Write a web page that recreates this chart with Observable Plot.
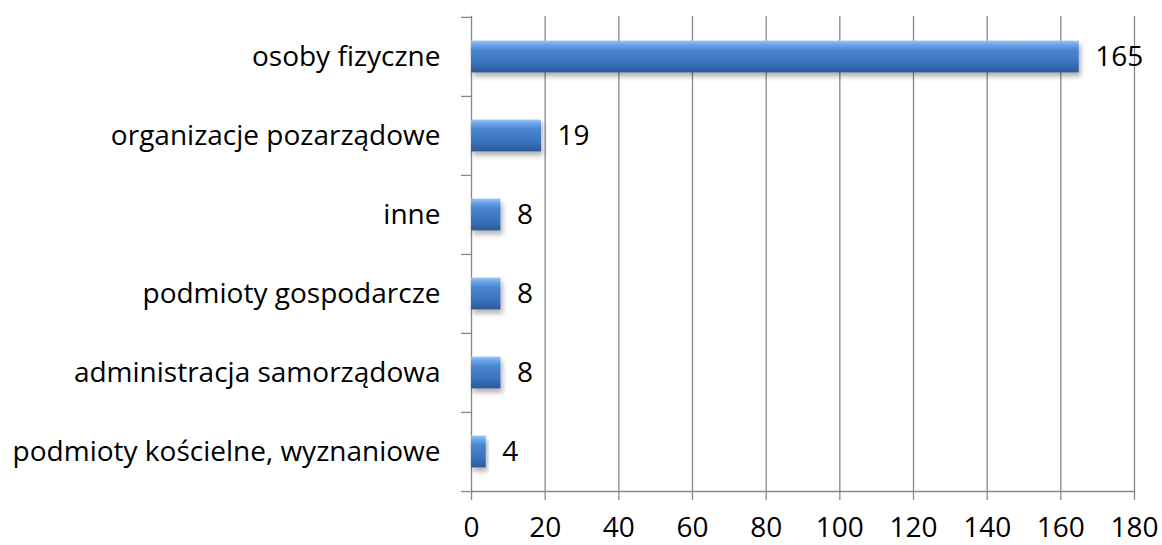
<!DOCTYPE html>
<html>
<head>
<meta charset="utf-8">
<script src="https://cdn.jsdelivr.net/npm/d3@7"></script>
<script src="https://cdn.jsdelivr.net/npm/@observablehq/plot@0.6"></script>
<style>
  body { margin: 0; background: #fff; }
  #chart svg { display: block; }
</style>
</head>
<body>
<div id="chart"></div>
<script>
const categories = [
  "osoby fizyczne",
  "organizacje pozarządowe",
  "inne",
  "podmioty gospodarcze",
  "administracja samorządowa",
  "podmioty kościelne, wyznaniowe"
];
const values = [165, 19, 8, 8, 8, 4];
const xTicks = [0, 20, 40, 60, 80, 100, 120, 140, 160, 180];

const data = categories.map((c, i) => ({category: c, value: values[i]}));

const W = 1162, H = 545;
const mT = 16, mB = 54, mL = 471, mR = 28;
const step = (H - mT - mB) / categories.length;
const barH = 32;
const inset = (step - barH) / 2;
const gridColor = "#888888";
const font = "'Open Sans', Lato, sans-serif";
const fs = 28;

const plot = Plot.plot({
  width: W,
  height: H,
  marginTop: mT,
  marginBottom: mB,
  marginLeft: mL,
  marginRight: mR,
  style: {fontFamily: font, fontSize: fs + "px", color: "#000", background: "#fff"},
  x: {domain: [0, 180], ticks: xTicks, label: null},
  y: {domain: categories, padding: 0, label: null},
  marks: [
    Plot.gridX(xTicks.filter(t => t > 0), {stroke: gridColor, strokeOpacity: 1, strokeWidth: 1.3}),
    Plot.frame({anchor: "bottom", stroke: gridColor, strokeWidth: 1.3}),
    Plot.frame({anchor: "left", stroke: gridColor, strokeWidth: 1.3}),
    // ticks at category boundaries
    Plot.axisY({tickSize: 10, tickFormat: () => "", dy: -step / 2, stroke: gridColor, strokeWidth: 1.3, label: null}),
    Plot.axisY([categories[categories.length - 1]], {tickSize: 10, tickFormat: () => "", dy: step / 2, stroke: gridColor, strokeWidth: 1.3, label: null}),
    // category labels
    Plot.axisY({tickSize: 0, tickPadding: 31, fontSize: fs, label: null}),
    // x axis
    Plot.axisX({ticks: xTicks, tickSize: 9, tickPadding: 17, stroke: gridColor, strokeWidth: 1.3, fontSize: fs, label: null}),
    Plot.barX(data, {x: "value", y: "category", fill: "url(#barGrad)", insetTop: inset, insetBottom: inset}),
    Plot.text(data, {x: "value", y: "category", text: d => String(d.value), textAnchor: "start", dx: 16, fontSize: fs, fill: "#000"})
  ]
});

const svg = d3.select(plot);
const defs = svg.insert("defs", ":first-child");
const grad = defs.append("linearGradient").attr("id", "barGrad")
  .attr("x1", 0).attr("y1", 0).attr("x2", 0).attr("y2", 1);
[["0%", "#9cc6f2"], ["12%", "#6ea6e8"], ["30%", "#4a86d2"], ["70%", "#3a72bd"], ["100%", "#2c5995"]]
  .forEach(([o, c]) => grad.append("stop").attr("offset", o).attr("stop-color", c));
const filt = defs.append("filter").attr("id", "shadow").attr("x", "-10%").attr("y", "-20%").attr("width", "130%").attr("height", "160%");
filt.append("feDropShadow").attr("dx", 2).attr("dy", 4).attr("stdDeviation", 2.5).attr("flood-color", "#000").attr("flood-opacity", 0.3);
svg.selectAll("g[aria-label=bar] rect").attr("filter", "url(#shadow)");

document.getElementById("chart").appendChild(plot);
</script>
</body>
</html>
